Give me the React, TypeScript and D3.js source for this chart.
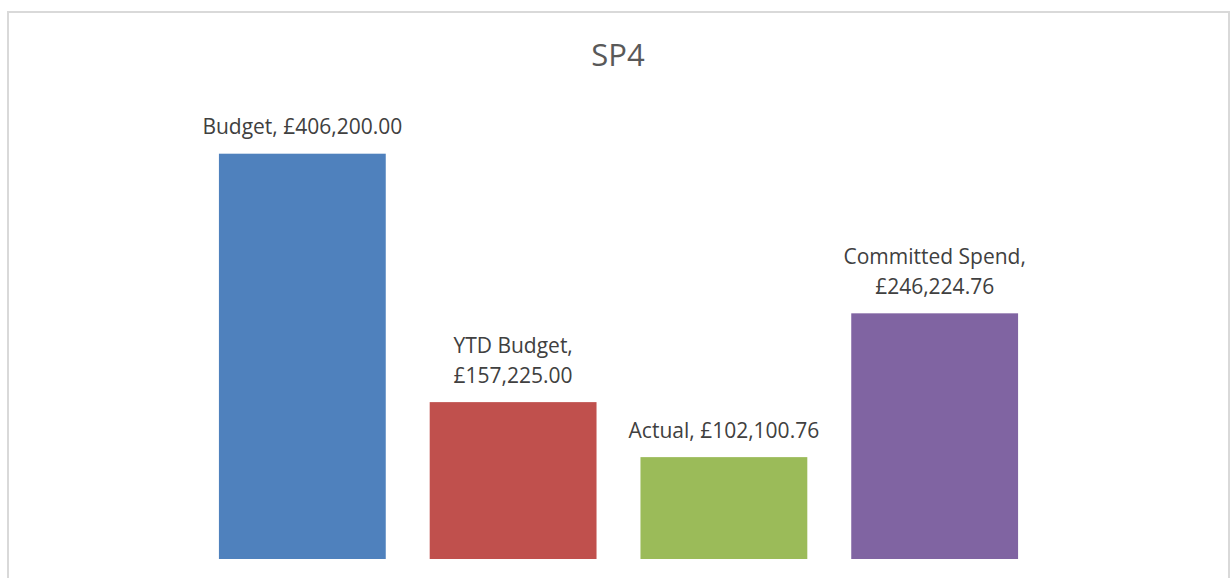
import React from "react";
import * as d3 from "d3";

const title = "SP4";
const categories = ["Budget", "YTD Budget", "Actual", "Committed Spend"];
const values = [406200.0, 157225.0, 102100.76, 246224.76];
const wrapLabel = [false, true, false, true];
const colors = ["#4F81BD", "#C0504D", "#9BBB59", "#8064A2"];

const W = 1232;
const H = 578;

const fmt = (v: number) => "£" + d3.format(",.2f")(v);

export default function App() {
  const x = d3
    .scaleBand<string>()
    .domain(categories)
    .range([197, 1040])
    .paddingInner(0.2085)
    .paddingOuter(0.104);
  const y = d3.scaleLinear().domain([0, 450000]).range([559, 110]);
  const font = "'Open Sans', 'Liberation Sans', sans-serif";

  return (
    <svg
      width={W}
      height={H}
      style={{ position: "absolute", left: 0, top: 0, background: "#fff" }}
    >
      <rect x={0} y={0} width={W} height={H} fill="#fff" />
      <rect
        x={8}
        y={12}
        width={1221}
        height={620}
        fill="#fff"
        stroke="#d9d9d9"
        strokeWidth={2}
      />
      <text
        x={618}
        y={66}
        textAnchor="middle"
        fontFamily={font}
        fontSize={31}
        fill="#595959"
      >
        {title}
      </text>
      {categories.map((c, i) => {
        const bx = x(c)!;
        const bw = x.bandwidth();
        const top = y(values[i]);
        const cx = bx + bw / 2;
        const full = `${c}, ${fmt(values[i])}`;
        const lines = wrapLabel[i] ? [`${c},`, fmt(values[i])] : [full];
        const lh = 29.5;
        const lastBase = top - 19.5;
        return (
          <g key={c}>
            <rect x={bx} y={top} width={bw} height={y(0) - top} fill={colors[i]} />
            <text
              textAnchor="middle"
              fontFamily={font}
              fontSize={21}
              fill="#404040"
            >
              {lines.map((l, k) => (
                <tspan key={k} x={cx} y={lastBase - (lines.length - 1 - k) * lh}>
                  {l}
                </tspan>
              ))}
            </text>
          </g>
        );
      })}
    </svg>
  );
}
